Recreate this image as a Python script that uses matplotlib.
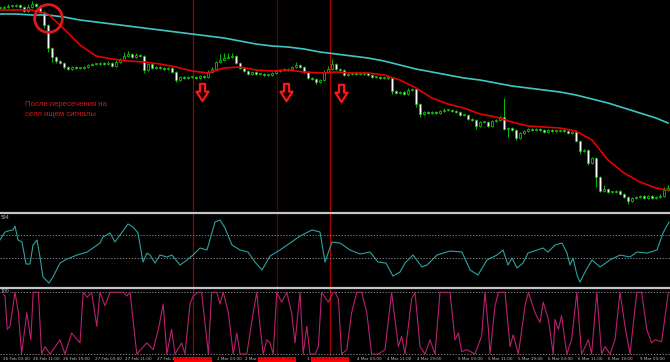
import matplotlib
matplotlib.use("Agg")
import matplotlib.pyplot as plt
from matplotlib.path import Path
from matplotlib.transforms import blended_transform_factory
import numpy as np

# candle closes in points (bar index = position on the time axis)
closes = [192, 193, 194, 194, 195, 193, 189, 193, 196, 194,
          188, 175, 152, 143, 139, 137, 133, 131, 133, 132,
          132, 133, 135, 136, 136, 137, 136, 137, 134, 138,
          140, 144, 146, 143, 145, 144, 130, 136, 132, 133,
          132, 131, 132, 128, 120, 123, 122, 123, 123, 122,
          124, 123, 128, 131, 138, 140, 142, 143, 144, 137,
          132, 129, 126, 128, 126, 126, 125, 125, 127, 129,
          130, 130, 131, 133, 135, 133, 128, 122, 121, 118,
          120, 128, 131, 136, 131, 130, 125, 126, 127, 126,
          126, 127, 125, 123, 123, 122, 122, 122, 109, 107,
          108, 106, 110, 111, 96, 86, 88, 87, 88, 87,
          89, 90, 90, 89, 88, 85, 85, 81, 80, 74,
          78, 78, 74, 79, 80, 83, 71, 72, 70, 62,
          67, 69, 71, 70, 71, 70, 68, 70, 69, 69,
          70, 69, 67, 68, 59, 49, 50, 37, 42, 23,
          9, 11, 8, 8, 9, 6, 3, -1, 2, 3,
          4, 2, 4, 2, 3, 4, 10, 12]
wick_up = [1, 1, 2, 1, 1, 1, 1, 3, 3, 1,
           1, 1, 1, 1, 1, 1, 1, 1, 1, 1,
           1, 1, 1, 1, 1, 1, 1, 2, 1, 2,
           2, 4, 3, 1, 2, 1, 1, 1, 1, 1,
           1, 1, 1, 1, 1, 1, 1, 1, 1, 1,
           1, 1, 2, 2, 1, 6, 5, 4, 3, 1,
           1, 1, 1, 1, 1, 1, 1, 1, 1, 1,
           1, 2, 1, 1, 3, 1, 1, 1, 1, 1,
           1, 2, 3, 5, 1, 1, 1, 1, 1, 1,
           1, 1, 1, 1, 1, 1, 1, 1, 1, 1,
           1, 1, 2, 1, 1, 1, 1, 1, 1, 1,
           1, 2, 1, 1, 1, 1, 1, 1, 1, 1,
           1, 1, 1, 1, 1, 1, 19, 1, 1, 1,
           1, 1, 1, 1, 1, 1, 1, 1, 1, 1,
           1, 1, 1, 1, 1, 1, 1, 1, 1, 1,
           1, 4, 1, 1, 1, 1, 1, 1, 1, 1,
           1, 1, 1, 1, 1, 2, 3, 3]
wick_dn = [1, 1, 1, 1, 1, 1, 1, 1, 1, 1,
           1, 3, 4, 5, 2, 1, 2, 1, 1, 1,
           1, 1, 1, 1, 1, 1, 1, 1, 1, 1,
           1, 1, 1, 1, 1, 1, 3, 1, 1, 1,
           1, 1, 1, 1, 2, 1, 1, 1, 1, 1,
           1, 1, 1, 1, 1, 1, 1, 1, 1, 1,
           1, 1, 1, 1, 1, 1, 1, 1, 1, 1,
           1, 1, 1, 1, 1, 1, 1, 1, 1, 2,
           1, 1, 1, 1, 1, 1, 1, 1, 1, 1,
           1, 1, 1, 1, 1, 1, 1, 1, 3, 1,
           1, 1, 1, 1, 3, 3, 1, 1, 1, 1,
           1, 1, 1, 1, 1, 1, 1, 1, 1, 3,
           1, 1, 1, 1, 1, 1, 1, 8, 1, 2,
           1, 1, 1, 1, 1, 1, 1, 1, 1, 1,
           1, 1, 1, 1, 1, 3, 1, 2, 1, 10,
           1, 1, 1, 1, 1, 1, 1, 3, 1, 1,
           1, 1, 1, 1, 1, 1, 1, 1]

# moving averages, read every 4th bar
ma_bars = list(range(0, 168, 4)) + [167]
ma_fast = [190, 190, 190, 186, 171, 155, 144, 141, 139, 138, 136, 133, 129, 127,
           132, 133, 130, 129, 130, 128, 127, 128, 127, 127, 125, 120, 112, 102,
           96, 92, 86, 83, 78, 74, 73, 72, 69, 60, 40, 27, 18, 12, 10]
ma_slow = [186, 186, 185, 185, 183, 180, 178, 176, 174, 172, 170, 168, 166, 164,
           162, 159, 156, 154, 153, 151, 148, 146, 144, 142, 139, 135, 131, 128,
           125, 122, 120, 117, 114, 112, 110, 108, 105, 101, 97, 92, 87, 82, 77]

# CCI window
cci_bars = [0, 1.25, 2, 3.25, 3.75, 4.5, 5.5, 6.5, 7.5, 8.25, 9.25, 10, 10.75, 12.25,
            13.25, 15, 16.75, 19.25, 21.75, 23.25, 25, 25.75, 27.5, 28.75, 30, 32,
            33.25, 34.5, 35.75, 36.75, 37.5, 38.75, 40, 41.75, 43, 45, 46.75, 48.25,
            50, 51.75, 53.75, 55, 56.25, 58, 60, 62, 63.75, 65.5, 67.5, 70, 72.5, 75,
            78, 80, 81.25, 83, 85, 87.5, 90, 92.5, 94.5, 96.5, 98.25, 100, 101.25,
            103.25, 105.5, 106.75, 109.25, 112.5, 115.5, 117.5, 119.5, 121.75, 124.25,
            125.75, 127, 128, 129.25, 130.75, 132, 135.75, 137, 138.75, 140.5, 141.75,
            142.5, 143.25, 144.25, 145, 146.25, 148, 150, 152.5, 155, 157.5, 159.25,
            161.75, 164.25, 165.75, 167.25]
cci_vals = [57, 126, 135, 144, 178, 57, 39, -152, -152, 13, 57, -91, -265, -318,
            -265, -144, -109, -74, -48, -13, 30, 83, 118, 39, 100, 196,
            170, 118, -135, -57, -74, -144, -74, -91, -74, -161, -117, -74,
            -13, -30, 213, 231, 161, 13, -30, -48, -135, -204, -83, -30, 30, 91,
            144, 126, -135, 39, 30, -30, -65, -48, -135, -144, -257, -222, -144,
            -74, -178, -161, -74, -39, -48, -204, -248, -117, -74,
            -30, -161, -100, -187, -144, -57, -13, -48, 13, 30, -57,
            -161, -100, -248, -309, -222, -117, -178, -117, -74, -91, -48,
            -57, -30, 118, 213]
cci_levels = [100, -100]

# stochastic window
st_bars = [0.4, 1.25, 1.8, 2.5, 3.75, 4.6, 5.4, 6.7, 7.7, 8.3, 9.6, 10.4, 11.25, 12.5,
           15, 16.25, 17.9, 20, 20.8, 21.8, 22.9, 24.2, 25, 26.25, 27.5, 30.8, 31.7,
           32.5, 34.2, 36.7, 38.3, 39.6, 40.8, 41.7, 42.9, 43.75, 45.4, 46.25, 47.5,
           48.3, 49.6, 50.4, 52.1, 52.9, 54.2, 55, 55.8, 57.1, 58.3, 59.2, 60, 61.7,
           63.3, 64.2, 65, 65.8, 66.7, 67.5, 68.3, 69.2, 70.4, 71.7, 72.9, 73.75, 75,
           75.8, 76.7, 77.5, 78.75, 79.6, 80.4, 82.1, 83.3,
           83.75, 84.6, 85.4, 86.7, 87.9, 89.2, 90.4, 91.7, 92.9, 94.6, 96.25, 97.9,
           99.6, 100.4, 101.25, 102.9, 103.75, 105, 106.25, 107.5, 108.75, 110, 112.5,
           113.75, 114.6, 115.4, 116.7, 118.75, 120.4, 121.25, 122.1, 122.5, 123.75,
           124.6, 126.25, 127.5, 128.3, 129.6, 131.25, 132.1, 133.75, 135, 135.8,
           137.1, 138.3, 138.75, 139.6, 140.4, 141.7, 142.9, 144.2, 145.4, 147.1,
           147.9, 149.2, 150.4, 151.25, 152.5, 153.75, 155, 156.25, 157.5, 159.2,
           160.4, 161.7, 162.9, 163.75, 165.4, 167.1]
st_vals = [100, 94, 40, 45, 100, 67, 0, 67, 23, 100, 100, 0, 12, 0,
           23, 0, 34, 18, 100, 92, 100, 45, 100, 78, 100, 100, 94,
           100, 0, 18, 7, 40, 81, 0, 40, 0, 18, 0, 81,
           94, 100, 100, 0, 100, 100, 81, 100, 67, 0, 34, 0, 0,
           67, 100, 45, 0, 23, 18, 0, 100, 84, 100, 67, 18, 100,
           0, 45, 0, 0, 12, 100, 84, 100,
           100, 89, 0, 7, 67, 100, 100, 67, 0, 0, 7, 100,
           12, 29, 0, 89, 100, 12, 0, 23, 0, 100, 100,
           23, 34, 4, 7, 0, 29, 100, 40, 0, 78,
           100, 100, 12, 31, 0, 78, 100, 67, 51, 84,
           56, 0, 56, 40, 62, 0, 23, 100, 0, 23,
           0, 100, 0, 12, 0, 23, 100, 45, 0, 100,
           100, 40, 18, 23, 20, 100]
st_levels = [100, 0]

# vertical lines, sell arrows, crossing circle
vline_bars = [48.25, 69.25, 82.5]
vline_colors = ["#9a0000", "#5a0000", "#b00000"]
vline_tags = ["2020.02.28 00:00", "2020.03.02 19:00", "2020.03.03 08:00"]
arrow_bars = [50.5, 71.5, 85.25]
arrow_vals = [108.5, 108.5, 107]
cross_bar, cross_val = 12, 182
note = "После пересечения на\nселл ищем сигналы"

# time axis labels (the ones hidden by the red tags are cut short)
time_bars = [0.75, 8.25, 15.75, 23.75, 31.25, 39.25, 54.25, 61.25, 76.75,
             89.25, 96.75, 104.25, 114.5, 122, 129.5, 137, 144.5, 152, 160]
time_labels = ["26 Feb 03:00", "26 Feb 11:00", "26 Feb 19:00", "27 Feb 03:00",
               "27 Feb 11:00", "27 Feb 1", "2 Mar 03:00", "2 Mar", "3",
               "4 Mar 03:00", "4 Mar 11:00", "4 Mar 19:00", "5 Mar 03:00",
               "5 Mar 11:00", "5 Mar 19:00", "6 Mar 03:00", "6 Mar 11:00",
               "6 Mar 19:00", "9 Mar 03:00"]

green = "#00c400"

fig = plt.figure(figsize=(6.7, 3.62), dpi=100, facecolor="black")
ax = fig.add_axes([0, 0.4171, 1, 0.5829])
ax_cci = fig.add_axes([0, 0.2072, 1, 0.2017])
ax_st = fig.add_axes([0, 0.0166, 1, 0.1837])
for a in (ax, ax_cci, ax_st):
    a.set_xlim(0, 167.5)
    a.axis("off")
    for b, c in zip(vline_bars, vline_colors):
        a.axvline(b, color=c, lw=0.9, zorder=0)
ax.set_ylim(-11, 200)
ax_cci.set_ylim(-352, 283)
ax_st.set_ylim(-3.2, 104.5)

# candles
c = np.array(closes, dtype=float)
o = np.r_[c[0], c[:-1]]
x = np.arange(len(c))
top = np.maximum(o, c)
bot = np.minimum(o, c)
ax.vlines(x, bot - np.array(wick_dn), top + np.array(wick_up), color=green, lw=0.7, zorder=2)
h = np.maximum(top - bot, 0.7)
bear = c < o
ax.bar(x[bear], h[bear], bottom=bot[bear], width=0.72, color="white",
       edgecolor=green, lw=0.5, zorder=3)
ax.bar(x[~bear], h[~bear], bottom=bot[~bear], width=0.72, color="black",
       edgecolor=green, lw=0.6, zorder=3)

ax.plot(ma_bars, ma_slow, color="#3ec6c6", lw=1.2, zorder=4)
ax.plot(ma_bars, ma_fast, color="#e80000", lw=1.2, zorder=4)

arrow = Path([(-0.3, 1), (0.3, 1), (0.3, 0.1), (0.7, 0.1), (0, -1), (-0.7, 0.1),
              (-0.3, 0.1), (-0.3, 1)],
             [Path.MOVETO] + [Path.LINETO] * 6 + [Path.CLOSEPOLY])
ax.plot(arrow_bars, arrow_vals, ls="none", marker=arrow, ms=12.5, mfc="#200000",
        mec="#ff1a1a", mew=1.5, zorder=5)
ax.plot([cross_bar], [cross_val], ls="none", marker="o", ms=20, mfc="none",
        mec="#e01818", mew=2, zorder=6)
ax.text(6.25, 99, note, color="#d01818", fontsize=5.6, va="top", ha="left",
        linespacing=1.55, family="Liberation Sans")

# CCI
for lv in cci_levels:
    ax_cci.axhline(lv, color="#9a9a9a", lw=0.6, ls=(0, (1.5, 2)), zorder=1)
ax_cci.plot(cci_bars, cci_vals, color="#2aa3a0", lw=0.8, zorder=3)
ax_cci.text(0.2, 270, "594", color="#bdbdbd", fontsize=3.3, va="top", ha="left")

# stochastic
for lv in st_levels:
    ax_st.axhline(lv, color="#9a9a9a", lw=0.6, ls=(0, (1.5, 2)), zorder=1)
ax_st.plot(st_bars, st_vals, color="#b8206e", lw=0.8, zorder=3)
ax_st.text(0.2, 102, "100", color="#bdbdbd", fontsize=3.3, va="center", ha="left",
           bbox=dict(facecolor="black", edgecolor="none", pad=0.2))

# separators between windows
for yy in (1 - 213 / 362, 1 - 288.2 / 362):
    fig.add_artist(plt.Line2D([0, 1], [yy, yy], color="#c4c4c4", lw=1.6,
                              transform=fig.transFigure))

# time axis
tr = blended_transform_factory(ax_st.transData, ax_st.transAxes)
for b, lab in zip(time_bars, time_labels):
    ax_st.text(b, -0.02, lab, transform=tr, color="#c0c0c0", fontsize=3.0,
               va="top", ha="left", clip_on=False)
for b, tag in zip(vline_bars, vline_tags):
    ax_st.text(b, -0.02, tag, transform=tr, color="#6a0000", fontsize=3.0,
               va="top", ha="center", clip_on=False, zorder=10,
               bbox=dict(facecolor="#ff0000", edgecolor="none", pad=0.4))

fig.savefig("out.png", dpi=100, facecolor="black")
